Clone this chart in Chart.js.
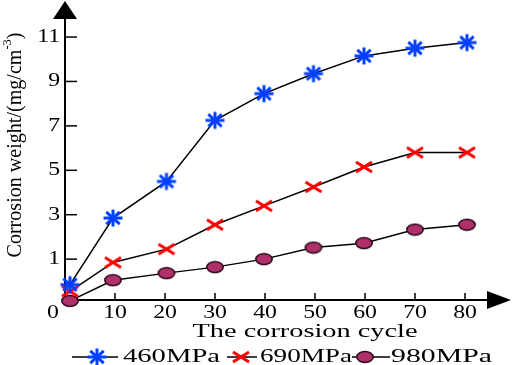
<!DOCTYPE html>
<html>
<head>
<meta charset="utf-8">
<script src="https://cdn.jsdelivr.net/npm/chart.js@4.4.0/dist/chart.umd.min.js"></script>
<style>
  html, body { margin: 0; padding: 0; background: #fff; }
  canvas { display: block; }
</style>
</head>
<body>
<canvas id="corrosionChart" width="512" height="365"></canvas>
<script>
// corrosion cycles and weights
const cycles = [1, 9.6, 20.3, 30, 39.8, 49.7, 59.8, 70, 80.4];
const weight460 = [-0.15, 2.85, 4.5, 7.25, 8.45, 9.35, 10.15, 10.5, 10.75];
const weight690 = [-0.45, 0.85, 1.45, 2.55, 3.4, 4.25, 5.15, 5.8, 5.8];
const weight980 = [-0.88, 0.05, 0.37, 0.64, 1.0, 1.52, 1.72, 2.33, 2.55];
const seriesNames = ['460MPa', '690MPa', '980MPa'];
const yTickLabels = [1, 3, 5, 7, 9, 11];
const xTickLabels = [10, 20, 30, 40, 50, 60, 70, 80];

const SERIF = '"Liberation Serif", "Times New Roman", serif';

// marker images
function makeStar() {
  const c = document.createElement('canvas');
  c.width = 22; c.height = 20;
  const g = c.getContext('2d');
  g.strokeStyle = '#0040ff';
  g.lineWidth = 3;
  for (let i = 0; i < 4; i++) {
    const a = i * Math.PI / 4;
    const dx = Math.cos(a) * 9.5, dy = Math.sin(a) * 8.5;
    g.beginPath();
    g.moveTo(11 - dx, 10 - dy);
    g.lineTo(11 + dx, 10 + dy);
    g.stroke();
  }
  return c;
}
function makeCross() {
  const c = document.createElement('canvas');
  c.width = 20; c.height = 14;
  const g = c.getContext('2d');
  g.strokeStyle = '#ff0000';
  g.lineWidth = 3;
  g.beginPath();
  g.moveTo(2, 2); g.lineTo(18, 12);
  g.moveTo(2, 12); g.lineTo(18, 2);
  g.stroke();
  return c;
}
function makeDot() {
  const c = document.createElement('canvas');
  c.width = 20; c.height = 14;
  const g = c.getContext('2d');
  g.fillStyle = '#b0306a';
  g.strokeStyle = '#2a0a18';
  g.lineWidth = 1.5;
  g.beginPath();
  g.ellipse(10, 7, 8.2, 5.5, 0, 0, Math.PI * 2);
  g.fill();
  g.stroke();
  return c;
}
const markers = [makeStar(), makeCross(), makeDot()];

function toPoints(vals) {
  return vals.map((v, i) => ({ x: cycles[i], y: v }));
}

// horizontally stretched text, like the original figure
function stretchText(ctx, text, x, y, size, sx, align) {
  ctx.save();
  ctx.font = size + 'px ' + SERIF;
  ctx.textBaseline = 'middle';
  ctx.fillStyle = '#000';
  const w = ctx.measureText(text).width * sx;
  let left = x;
  if (align === 'center') left = x - w / 2;
  if (align === 'right') left = x - w;
  ctx.translate(left, y);
  ctx.scale(sx, 1);
  ctx.textAlign = 'left';
  ctx.fillText(text, 0, 0);
  ctx.restore();
}

const axesPlugin = {
  id: 'axesPlugin',
  beforeDatasetsDraw(chart) {
    const { ctx, chartArea, scales } = chart;
    const x0 = scales.x.getPixelForValue(0);
    const yb = chartArea.bottom;
    ctx.save();
    ctx.strokeStyle = '#000';
    ctx.fillStyle = '#000';
    ctx.lineWidth = 2;
    // y axis with arrow
    ctx.beginPath();
    ctx.moveTo(x0, yb);
    ctx.lineTo(x0, 16);
    ctx.stroke();
    ctx.beginPath();
    ctx.moveTo(x0, 1);
    ctx.lineTo(x0 - 12, 19);
    ctx.lineTo(x0 + 12, 19);
    ctx.closePath();
    ctx.fill();
    // x axis with arrow
    ctx.beginPath();
    ctx.moveTo(x0, yb);
    ctx.lineTo(490, yb);
    ctx.stroke();
    ctx.beginPath();
    ctx.moveTo(511, yb);
    ctx.lineTo(487, yb - 9);
    ctx.lineTo(487, yb + 9);
    ctx.closePath();
    ctx.fill();
    // inward ticks
    ctx.lineWidth = 1.5;
    yTickLabels.forEach(v => {
      const py = scales.y.getPixelForValue(v);
      ctx.beginPath();
      ctx.moveTo(x0, py);
      ctx.lineTo(x0 + 12, py);
      ctx.stroke();
    });
    xTickLabels.forEach(v => {
      const px = scales.x.getPixelForValue(v);
      ctx.beginPath();
      ctx.moveTo(px, yb);
      ctx.lineTo(px, yb - 7);
      ctx.stroke();
    });
    ctx.restore();
  },
  afterDraw(chart) {
    const { ctx, chartArea, scales } = chart;
    const x0 = scales.x.getPixelForValue(0);
    // tick labels
    yTickLabels.forEach(v => {
      stretchText(ctx, String(v), x0 - 5, scales.y.getPixelForValue(v), 19, 1.25, 'right');
    });
    xTickLabels.forEach(v => {
      stretchText(ctx, String(v), scales.x.getPixelForValue(v), chartArea.bottom + 13, 19, 1.25, 'center');
    });
    stretchText(ctx, '0', x0 - 12, chartArea.bottom + 13, 19, 1.25, 'center');

    // x title
    ctx.save();
    ctx.font = '19px ' + SERIF;
    const tw = ctx.measureText('The corrosion cycle').width;
    ctx.restore();
    stretchText(ctx, 'The corrosion cycle', 305, 332, 19, 225 / tw, 'center');

    // y title with superscript
    ctx.save();
    ctx.translate(15, 145);
    ctx.rotate(-Math.PI / 2);
    ctx.fillStyle = '#000';
    ctx.textBaseline = 'middle';
    ctx.font = '21px ' + SERIF;
    const partA = 'Corrosion weight/(mg/cm';
    const partC = ')';
    const wA = ctx.measureText(partA).width;
    const wC = ctx.measureText(partC).width;
    ctx.font = '13px ' + SERIF;
    const wB = ctx.measureText('-3').width;
    const total = wA + wB + wC;
    const sx = 225 / total;
    ctx.scale(sx, 1);
    let cx = -total / 2;
    ctx.font = '21px ' + SERIF;
    ctx.fillText(partA, cx, 0);
    cx += wA;
    ctx.font = '13px ' + SERIF;
    ctx.fillText('-3', cx, -7);
    cx += wB;
    ctx.font = '21px ' + SERIF;
    ctx.fillText(partC, cx, 0);
    ctx.restore();

    // legend: line, marker, name
    const items = [
      { x1: 72, x2: 118, mx: 97, tx: 123, tw: 97 },
      { x1: 227, x2: 257, mx: 241, tx: 260, tw: 92 },
      { x1: 352, x2: 390, mx: 365, tx: 391, tw: 101 }
    ];
    const ly = 357;
    items.forEach((it, i) => {
      ctx.save();
      ctx.strokeStyle = '#000';
      ctx.lineWidth = 1.5;
      ctx.beginPath();
      ctx.moveTo(it.x1, ly);
      ctx.lineTo(it.x2, ly);
      ctx.stroke();
      const m = markers[i];
      ctx.drawImage(m, it.mx - m.width / 2, ly - m.height / 2);
      ctx.font = '18px ' + SERIF;
      const w = ctx.measureText(seriesNames[i]).width;
      ctx.restore();
      stretchText(ctx, seriesNames[i], it.tx, ly, 18, it.tw / w, 'left');
    });
  }
};

const ctx = document.getElementById('corrosionChart').getContext('2d');

new Chart(ctx, {
  type: 'line',
  data: {
    datasets: [
      { label: seriesNames[0], data: toPoints(weight460), pointStyle: markers[0] },
      { label: seriesNames[1], data: toPoints(weight690), pointStyle: markers[1] },
      { label: seriesNames[2], data: toPoints(weight980), pointStyle: markers[2] }
    ].map(d => Object.assign(d, {
      borderColor: '#000',
      borderWidth: 1.5,
      tension: 0,
      fill: false,
      clip: false
    }))
  },
  options: {
    responsive: false,
    maintainAspectRatio: false,
    animation: false,
    devicePixelRatio: 1,
    layout: { padding: { top: 5, right: 7, left: 0, bottom: 0 } },
    plugins: { legend: { display: false }, tooltip: { enabled: false } },
    scales: {
      x: {
        type: 'linear',
        min: 0,
        max: 88,
        grid: { display: false },
        border: { display: false },
        ticks: { display: false },
        afterFit(scale) { scale.height = 65; }
      },
      y: {
        min: -0.84,
        max: 12.42,
        grid: { display: false },
        border: { display: false },
        ticks: { display: false },
        afterFit(scale) { scale.width = 65; }
      }
    }
  },
  plugins: [axesPlugin]
});
</script>
</body>
</html>
